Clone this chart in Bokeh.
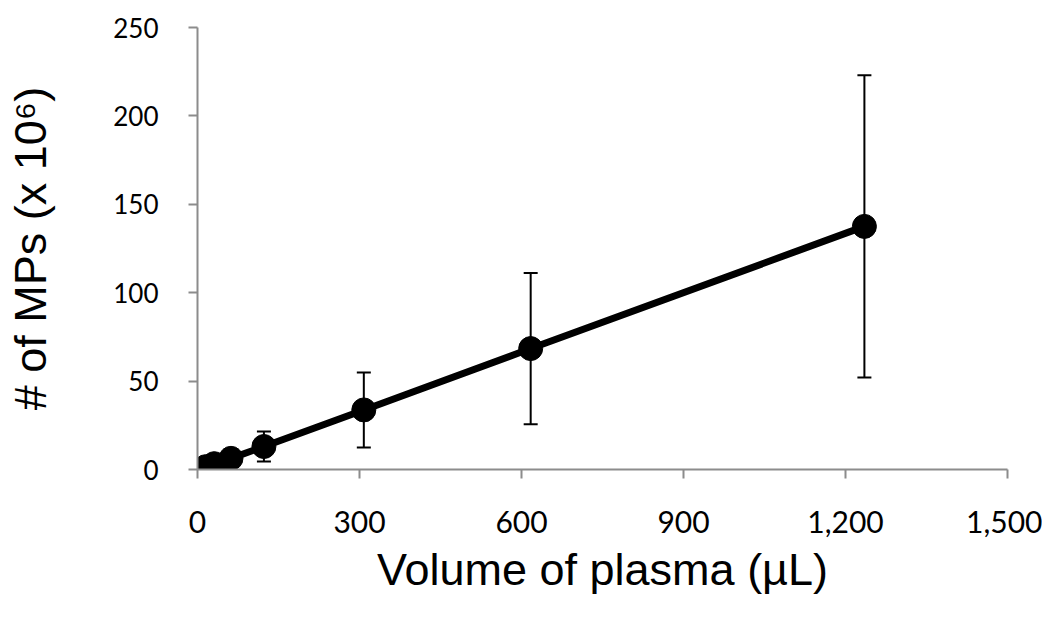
from bokeh.plotting import figure
from bokeh.models import ColumnDataSource, Whisker, TeeHead, FixedTicker, NumeralTickFormatter, Range1d
from bokeh.embed import file_html
from bokeh.resources import INLINE

# Data
volume_ul = [15, 31, 62, 123, 308, 617, 1235]
mps_e6 = [1.6, 3.3, 6.3, 13.0, 33.7, 68.4, 137.5]
mps_err = [0.8, 1.5, 2.5, 8.5, 21.2, 42.8, 85.5]
x_ticks = [0, 300, 600, 900, 1200, 1500]
y_ticks = [0, 50, 100, 150, 200, 250]

upper = [m + e for m, e in zip(mps_e6, mps_err)]
lower = [m - e for m, e in zip(mps_e6, mps_err)]
src = ColumnDataSource(dict(x=volume_ul, y=mps_e6, upper=upper, lower=lower))

p = figure(width=1042, height=612, output_backend="svg", toolbar_location=None,
           x_range=Range1d(0, 1500), y_range=Range1d(0, 250),
           min_border_left=197, min_border_right=35, min_border_top=27, min_border_bottom=143)
p.outline_line_color = None
p.xgrid.grid_line_color = None
p.ygrid.grid_line_color = None
p.background_fill_color = "white"
p.border_fill_color = "white"

axis_col = "#8c8c8c"
for ax in (p.xaxis[0], p.yaxis[0]):
    ax.axis_line_color = axis_col
    ax.axis_line_width = 2
    ax.major_tick_line_color = axis_col
    ax.major_tick_line_width = 2
    ax.major_tick_out = 9
    ax.major_tick_in = 0
    ax.minor_tick_line_color = None
    ax.major_label_text_color = "black"
    ax.major_label_text_font = "Lato"
    ax.axis_label_text_font = "Liberation Sans"
    ax.axis_label_text_font_style = "normal"
    ax.axis_label_text_font_size = "45px"
    ax.axis_label_text_color = "black"

p.xaxis[0].ticker = FixedTicker(ticks=x_ticks)
p.xaxis[0].formatter = NumeralTickFormatter(format="0,0")
p.xaxis[0].major_label_text_font_size = "30px"
p.xaxis[0].major_label_standoff = 32
p.xaxis[0].axis_label = "Volume of plasma (µL)"
p.xaxis[0].axis_label_standoff = 8

p.yaxis[0].ticker = FixedTicker(ticks=y_ticks)
p.yaxis[0].major_label_text_font_size = "26px"
p.yaxis[0].major_label_standoff = 30
p.yaxis[0].axis_label = "# of MPs (x 10⁶)"
p.yaxis[0].axis_label_standoff = 54

wh = Whisker(source=src, base="x", upper="upper", lower="lower",
             line_color="black", line_width=2,
             upper_head=TeeHead(size=14, line_width=2, line_color="black"),
             lower_head=TeeHead(size=14, line_width=2, line_color="black"))
p.add_layout(wh)

p.line("x", "y", source=src, line_color="black", line_width=7)
p.scatter("x", "y", source=src, size=24, fill_color="black", line_color="black")

open("out.html", "w").write(file_html(p, INLINE))
